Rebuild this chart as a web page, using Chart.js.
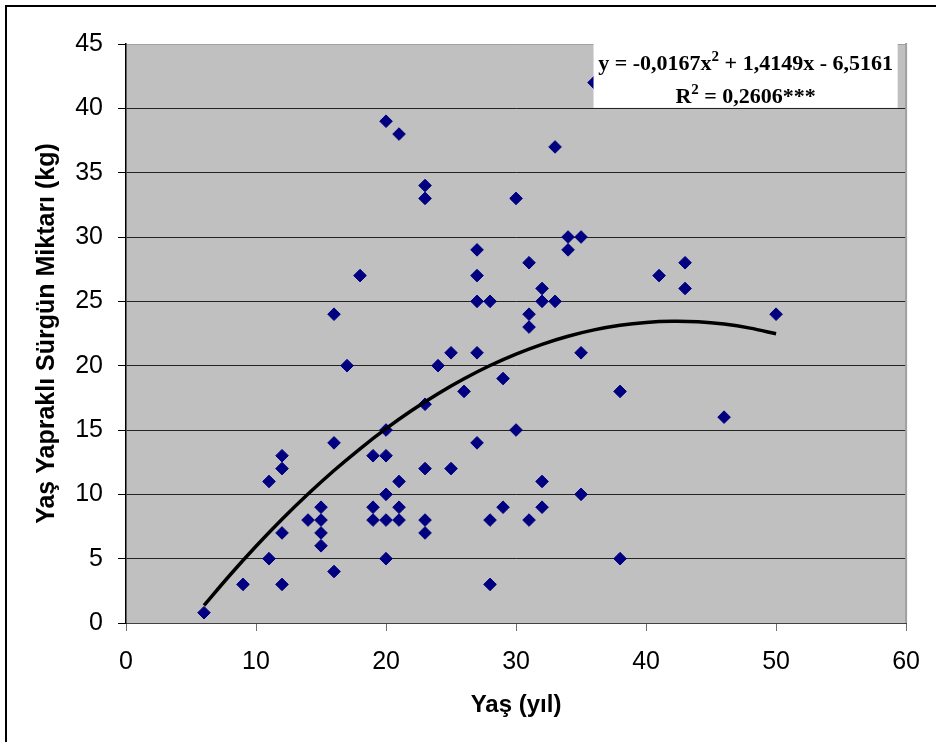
<!DOCTYPE html>
<html><head><meta charset="utf-8">
<script src="https://cdn.jsdelivr.net/npm/chart.js@4.4.1/dist/chart.umd.min.js"></script>
<style>html,body{margin:0;padding:0;background:#fff;} canvas{display:block;}</style>
</head><body>
<canvas id="c" width="936" height="742"></canvas>
<script>
// ---- data ----
const ages = [6,9,11,11,12,12,12,12,14,15,15,15,15,16,16,16,17,18,19,19,19,20,20,20,20,20,20,21,21,21,21,23,23,23,23,23,23,24,25,25,26,27,27,27,27,27,28,28,28,29,29,30,30,31,31,31,31,32,32,32,32,33,33,34,34,35,35,35,36,38,38,41,43,43,46,50];
const yields = [0.8,3,11,5,13,12,7,3,8,9,8,7,6,24,14,4,20,27,13,9,8,39,15,13,10,8,5,38,11,9,8,34,33,17,12,8,7,20,21,12,18,29,27,25,21,14,25,8,3,19,9,33,15,28,24,23,8,26,25,11,9,37,25,30,29,30,21,10,42,18,5,27,28,26,16,24];
const trendAges = [6,8,10,12,14,16,18,20,22,24,26,28,30,32,34,36,38,40,42,44,46,48,50];
const trendYields = [1.37,3.73,5.96,8.06,10.02,11.85,13.54,15.10,16.53,17.82,18.98,20.01,20.90,21.66,22.29,22.78,23.14,23.36,23.45,23.41,23.23,22.92,22.48];
const xTicks = [0,10,20,30,40,50,60];
const yTicks = [0,5,10,15,20,25,30,35,40,45];
const xTitle = 'Yaş (yıl)';
const yTitle = 'Yaş Yapraklı Sürgün Miktarı (kg)';
const eqLine1 = [['y = -0,0167x', false], ['2', true], [' + 1,4149x - 6,5161', false]];
const eqLine2 = [['R', false], ['2', true], [' = 0,2606***', false]];
const eqBoxX = [35.96, 59.35];
const eqBoxY = [40, 45];

const SANS = "'Liberation Sans', Arial, sans-serif";
const SERIF = "'Liberation Serif', 'Times New Roman', serif";

function drawRich(ctx, parts, cx, baseline) {
  const big = 'bold 22px ' + SERIF, small = 'bold 15px ' + SERIF;
  let total = 0;
  parts.forEach(([t, sup]) => { ctx.font = sup ? small : big; total += ctx.measureText(t).width; });
  let x = cx - total / 2;
  ctx.textAlign = 'left'; ctx.textBaseline = 'alphabetic';
  parts.forEach(([t, sup]) => {
    ctx.font = sup ? small : big;
    ctx.fillText(t, x, sup ? baseline - 9 : baseline);
    x += ctx.measureText(t).width;
  });
}

const decor = {
  id: 'decor',
  beforeDraw(chart) {
    const {ctx, chartArea: a} = chart;
    ctx.save();
    ctx.fillStyle = '#fff';
    ctx.fillRect(0, 0, chart.width, chart.height);
    ctx.fillStyle = '#c0c0c0';
    ctx.fillRect(a.left, a.top, a.right - a.left, a.bottom - a.top);
    ctx.restore();
  },
  afterDatasetsDraw(chart) {
    const {ctx, chartArea: a, scales: {x, y}} = chart;
    ctx.save();
    ctx.strokeStyle = '#a0a0a0';
    ctx.lineWidth = 2;
    ctx.beginPath();
    ctx.moveTo(a.right, a.top - 1); ctx.lineTo(a.right, a.bottom);
    ctx.stroke();
    const bx0 = x.getPixelForValue(eqBoxX[0]), bx1 = x.getPixelForValue(eqBoxX[1]);
    const by0 = y.getPixelForValue(eqBoxY[1]) - 2, by1 = y.getPixelForValue(eqBoxY[0]) - 0.5;
    ctx.fillStyle = '#fff';
    ctx.fillRect(bx0, by0, bx1 - bx0, by1 - by0);
    ctx.fillStyle = '#000';
    const cx = (bx0 + bx1) / 2;
    drawRich(ctx, eqLine1, cx, by0 + 27.5);
    drawRich(ctx, eqLine2, cx, by0 + 61);
    ctx.restore();
  },
  afterDraw(chart) {
    const {ctx} = chart;
    ctx.save();
    ctx.strokeStyle = '#000';
    ctx.lineWidth = 2;
    ctx.beginPath();
    ctx.moveTo(6, chart.height); ctx.lineTo(6, 6); ctx.lineTo(chart.width, 6);
    ctx.stroke();
    ctx.restore();
  }
};

new Chart(document.getElementById('c'), {
  type: 'scatter',
  data: {
    datasets: [
      {
        type: 'line',
        data: trendAges.map((v, i) => ({x: v, y: trendYields[i]})),
        borderColor: '#000',
        borderWidth: 3.5,
        pointRadius: 0,
        tension: 0.3,
        fill: false,
        order: 0
      },
      {
        data: ages.map((v, i) => ({x: v, y: yields[i]})),
        pointStyle: 'rectRot',
        pointRadius: 6.3,
        pointHoverRadius: 6.3,
        backgroundColor: '#000080',
        borderColor: '#000080',
        borderWidth: 1,
        order: 1
      }
    ]
  },
  options: {
    responsive: false,
    animation: false,
    layout: {padding: {top: 44, right: 27, left: 0, bottom: 0}},
    plugins: {legend: {display: false}, tooltip: {enabled: false}},
    scales: {
      x: {
        type: 'linear', min: 0, max: 60,
        afterBuildTicks: s => { s.ticks = xTicks.map(v => ({value: v})); },
        afterFit: s => { s.height = 119; },
        grid: {drawOnChartArea: false, drawTicks: true, tickLength: 8, color: '#707070', tickColor: '#707070'},
        border: {display: true, color: '#404040', width: 1},
        ticks: {color: '#000', padding: 16, font: {family: SANS, size: 25}, maxRotation: 0},
        title: {display: true, text: xTitle, color: '#000', font: {family: SANS, size: 24, weight: 'bold'}, padding: {top: 0, bottom: 22}}
      },
      y: {
        type: 'linear', min: 0, max: 45,
        afterBuildTicks: s => { s.ticks = yTicks.map(v => ({value: v})); },
        afterFit: s => { s.width = 126; },
        grid: {drawOnChartArea: true, drawTicks: true, tickLength: 8,
               color: c => (c.tick && c.tick.value === 45) ? '#a0a0a0' : '#222',
               tickColor: '#000'},
        border: {display: true, color: '#000', width: 1.5},
        ticks: {color: '#000', padding: 15, font: {family: SANS, size: 25}},
        title: {display: true, text: yTitle, color: '#000', font: {family: SANS, size: 25, weight: 'bold'}, padding: {top: 32, bottom: 0}}
      }
    }
  },
  plugins: [decor]
});
</script>
</body></html>
